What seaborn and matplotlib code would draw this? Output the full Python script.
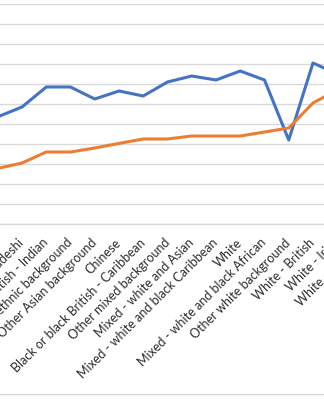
import matplotlib
matplotlib.use("Agg")
import matplotlib.pyplot as plt
from matplotlib.lines import Line2D
import pandas as pd
import seaborn as sns

categories = [
    "Asian or Asian British - Pakistani",
    "Asian or Asian British - Bangladeshi",
    "Asian or Asian British - Indian",
    "Any other ethnic background",
    "Other Asian background",
    "Chinese",
    "Black or black British - Caribbean",
    "Other mixed background",
    "Mixed - white and Asian",
    "Mixed - white and black Caribbean",
    "White",
    "Mixed - white and black African",
    "Other white background",
    "White - British",
    "White - Irish",
    "White - Scottish",
]
series_a = [53.6, 58.5, 68.5, 68.5, 62.5, 66.5, 64.0, 71.0, 74.0, 72.0,
            76.5, 72.0, 42.0, 80.5, 75.0, 72.0]
series_b = [27.8, 30.5, 36.0, 36.0, 38.0, 40.3, 42.5, 42.5, 44.0, 44.0,
            44.0, 46.0, 48.0, 60.5, 67.0, 70.0]
series_names = ["Series 1", "Series 2"]
colors = ["#4472C4", "#ED7D31"]

n = len(categories)
df = pd.concat([
    pd.DataFrame({"pos": range(n), "value": series_a, "series": series_names[0]}),
    pd.DataFrame({"pos": range(n), "value": series_b, "series": series_names[1]}),
])

sns.set_style("white")
plt.rcParams["font.family"] = ["Lato", "DejaVu Sans"]

fig = plt.figure(figsize=(3.24, 4.0), dpi=100)
# the plot area runs past the figure edges on both sides
ax = fig.add_axes([-0.0444, 0.44, 1.1975, 0.55])

sns.lineplot(data=df, x="pos", y="value", hue="series", palette=colors,
             linewidth=2.2, legend=False, ax=ax, sort=False)

ax.set_xlim(-0.5, n - 0.5)
ax.set_ylim(0, 110)
ax.set_yticks(range(0, 111, 10))
ax.yaxis.grid(True, color="#d9d9d9", linewidth=1.0)
ax.xaxis.grid(False)
ax.set_axisbelow(True)
ax.tick_params(axis="y", left=False, labelleft=False)
ax.tick_params(axis="x", bottom=False, pad=8.5)
ax.set_xticks(range(n))
ax.set_xticklabels(categories, rotation=45, ha="right", va="center",
                   rotation_mode="anchor", fontsize=9.0, color="#2b2b2b")
ax.set_xlabel("")
ax.set_ylabel("")
for side in ["left", "right", "top"]:
    ax.spines[side].set_visible(False)
ax.spines["bottom"].set_color("#d9d9d9")
ax.spines["bottom"].set_linewidth(1.0)

# chart area border at the bottom
fig.add_artist(Line2D([0, 1], [0.015, 0.015], color="#d9d9d9", linewidth=1.0,
                      transform=fig.transFigure))

fig.savefig("out.png", dpi=100)
